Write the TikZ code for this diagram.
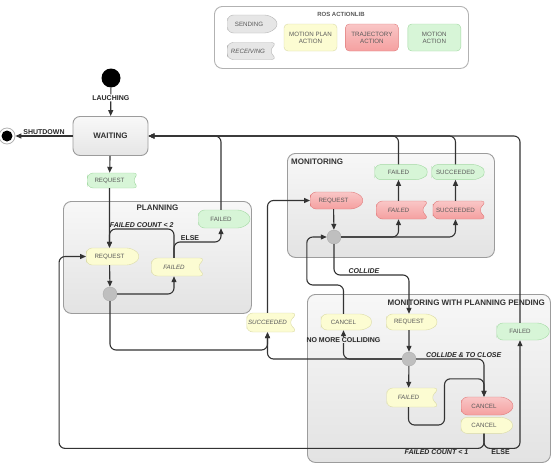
\documentclass[tikz,border=0pt]{standalone}
\usepackage{fontspec}
\setmainfont{Liberation Sans}
\usetikzlibrary{shapes.symbols, arrows.meta, positioning, calc}
\definecolor{planfill}{HTML}{FCFCD2}
\definecolor{plandraw}{HTML}{DADAA6}
\definecolor{trajfill}{HTML}{F5A0A0}
\definecolor{trajdraw}{HTML}{E07B7B}
\definecolor{motfill}{HTML}{D7F5D7}
\definecolor{motdraw}{HTML}{A3D9A3}
\definecolor{rosfill}{HTML}{E6E6E6}
\definecolor{rosdraw}{HTML}{B4B4B4}
\definecolor{boxdraw}{HTML}{9C9C9C}
\definecolor{txtgray}{HTML}{5A5A5A}
\definecolor{wire}{HTML}{333333}

\begin{document}
\begin{tikzpicture}[
  x=1pt, y=-1pt,
  msg/.style={signal, minimum height=17pt, minimum width=54pt, inner sep=1pt, rounded corners=6pt, font=\fontsize{6.2}{7}\selectfont, text=txtgray},
  send/.style={msg, signal to=east, signal from=nowhere},
  recv/.style={msg, signal to=nowhere, signal from=east},
  plan/.style={fill=planfill, draw=plandraw},
  traj/.style={top color=trajfill!60!white, bottom color=trajfill, draw=trajdraw},
  motion/.style={fill=motfill, draw=motdraw},
  ros/.style={fill=rosfill, draw=rosdraw},
  action/.style={rectangle, rounded corners=4pt, minimum width=53pt, minimum height=27pt, align=center, font=\fontsize{6.2}{7}\selectfont, text=txtgray},
  group/.style={rectangle, rounded corners=8pt, draw=boxdraw, line width=0.9pt, top color=gray!6, bottom color=gray!22, inner sep=0pt, anchor=north west},
  title/.style={font=\bfseries\fontsize{8}{9}\selectfont, text=black!80, inner sep=1pt},
  state/.style={rectangle, rounded corners=7pt, draw=boxdraw, line width=0.9pt, top color=gray!5, bottom color=gray!20, minimum width=75pt, minimum height=39pt, font=\bfseries\fontsize{8}{9}\selectfont, text=black!80},
  junction/.style={circle, fill=gray!50, draw=gray!65, minimum size=14pt, inner sep=0pt},
  start/.style={circle, fill=black, minimum size=19pt, inner sep=0pt},
  stop/.style={circle, draw=gray!60, fill=white, line width=0.8pt, minimum size=16pt, inner sep=0pt, path picture={\fill[black] (path picture bounding box.center) circle (5.5pt);}},
  evt/.style={font=\bfseries\fontsize{7}{8}\selectfont, text=black!85, inner sep=1pt},
  cond/.style={font=\bfseries\itshape\fontsize{7}{8}\selectfont, text=black!85, inner sep=1pt},
  line/.style={draw=wire, line width=1.1pt, rounded corners=6pt, -{Triangle[length=6pt, width=5pt]}}
]
  \useasboundingbox (0,0) rectangle (555,463);

  \node[group, fill=white, top color=white, bottom color=white, draw=gray!60, minimum width=254pt, minimum height=62pt] (legend) at (214,6) {};
  \node[font=\bfseries\fontsize{6}{7}\selectfont, text=txtgray] (legendtitle) at (341,14) {ROS ACTIONLIB};
  \node[send, ros, minimum width=52pt, minimum height=18pt] (sending) at (249,24) {SENDING};
  \node[recv, ros, minimum width=50pt, font=\itshape\fontsize{6.2}{7}\selectfont] (receiving) at (248,51) {RECEIVING};
  \node[action, plan] (planaction) at (310.5,37.5) {MOTION PLAN\\ACTION};
  \node[action, traj, right=8pt of planaction] (trajaction) {TRAJECTORY\\ACTION};
  \node[action, motion, right=9pt of trajaction] (motionaction) {MOTION\\ACTION};

  \node[group, minimum width=188pt, minimum height=112pt] (planning) at (63,201) {};
  \node[title, below=3pt of planning.north] (planningtitle) {PLANNING};
  \node[group, minimum width=207pt, minimum height=104pt] (monitoring) at (287,153) {};
  \node[title, anchor=west] (monitoringtitle) at (290,162) {MONITORING};
  \node[group, minimum width=243pt, minimum height=168pt] (pending) at (307,294) {};
  \node[title, anchor=east] (pendingtitle) at (546,303) {MONITORING WITH PLANNING PENDING};

  \node[start] (init) at (111,78) {};
  \node[stop] (final) at (7,136) {};
  \node[state] (waiting) at (110.5,136) {WAITING};
  \node[recv, motion, minimum width=52pt, minimum height=15pt] (request) at (109.5,180.5) {REQUEST};

  \node[send, plan, minimum width=55pt] (planreq) at (109.5,256.5) {REQUEST};
  \node[recv, plan, minimum height=18pt, font=\itshape\fontsize{6.2}{7}\selectfont] (planfail) at (174,267) {FAILED};
  \node[send, motion, minimum height=18pt] (planfailed) at (221,219) {FAILED};
  \node[junction] (planjoin) at (110,294) {};
  \node[recv, plan, minimum width=51pt, minimum height=19pt, font=\itshape\fontsize{6.2}{7}\selectfont] (plansucc) at (267.5,322.5) {SUCCEEDED};

  \node[send, traj, minimum width=55pt] (monreq) at (333.5,200.5) {REQUEST};
  \node[recv, traj, minimum width=53pt, minimum height=18pt, font=\itshape\fontsize{6.2}{7}\selectfont] (monfail) at (398.5,210) {FAILED};
  \node[recv, traj, minimum height=18pt, right=12pt of monfail] (monsucc) {SUCCEEDED};
  \node[send, motion, minimum width=55pt, minimum height=15pt, above=21pt of monfail] (monfailed) {FAILED};
  \node[send, motion, minimum width=55pt, minimum height=15pt, above=21pt of monsucc] (monsucceeded) {SUCCEEDED};
  \node[junction] (monjoin) at (334,237) {};

  \node[send, plan, minimum width=53pt, minimum height=16pt] (pendcancel) at (343.5,322) {CANCEL};
  \node[send, plan, minimum width=53pt, minimum height=16pt, right=12pt of pendcancel] (pendreq) {REQUEST};
  \node[send, motion, minimum width=55pt] (pendfailed) at (520,331.5) {FAILED};
  \node[junction] (pendjoin) at (409,359) {};
  \node[recv, plan, minimum width=53pt, minimum height=19pt, font=\itshape\fontsize{6.2}{7}\selectfont] (pendfail) at (408.5,397.5) {FAILED};
  \node[send, traj, minimum height=18pt] (pendcanceltraj) at (484,406) {CANCEL};
  \node[send, plan, minimum height=16pt, below=2pt of pendcanceltraj] (pendcancelplan) {CANCEL};

  \draw[line] (init) -- node[evt, fill=white, pos=0.36] {LAUCHING} (waiting);
  \draw[line] (waiting) -- node[evt, above] {SHUTDOWN} (final);
  \draw[line] (waiting) -- (request);
  \draw[line] (request) -- (planreq);
  \draw[line] (planfail) -- ++(0,-38) -| node[cond, above, pos=0.25] {FAILED COUNT < 2} (planreq);
  \draw[line] (planfail) -- ++(0,-25) -| node[evt, above, pos=0.17] {ELSE} (planfailed);
  \draw[line] (planreq) -- (planjoin);
  \draw[line] (planjoin) -| (planfail);
  \draw[line] (planjoin) -- ++(0,56) -| (plansucc);
  \draw[line] (planfailed) |- (waiting);

  \draw[line] (plansucc) |- (monreq);
  \draw[line] (monreq) -- (monjoin);
  \draw[line] (monjoin) -| (monfail);
  \draw[line] (monjoin) -| (monsucc);
  \draw[line] (monfail) -- (monfailed);
  \draw[line] (monsucc) -- (monsucceeded);
  \draw[line] (monfailed) |- (waiting);
  \draw[line] (monsucceeded) |- (waiting);
  \draw[line] (monjoin) -- ++(0,38) -| node[cond, above, pos=0.2] {COLLIDE} (pendreq);

  \draw[line] (pendcancel) -- ++(0,-37) -| ([xshift=-20pt]monjoin.west) -- (monjoin);
  \draw[line] (pendreq) -- (pendjoin);
  \draw[line] (pendjoin) -- (pendfail);
  \draw[line] (pendjoin) -| node[cond, above, pos=0.35] {COLLIDE \& TO CLOSE} (pendcanceltraj);
  \draw[line] (pendfail) -- ++(0,27.5) -- ++(36,0) |- ([yshift=18pt]pendcanceltraj.north) -- (pendcanceltraj);
  \draw[line] (pendjoin) -| (plansucc);
  \draw[line] (pendjoin) -| node[evt, pos=0.83, fill=gray!14, inner sep=0.5pt] {NO MORE COLLIDING} (pendcancel);
  \draw[line] (pendcancelplan) -- ++(0,23) -| node[cond, below, pos=0.056] {FAILED COUNT < 1} ([xshift=-27pt]planreq.west) -- (planreq);
  \draw[line] (pendcancelplan) -- ++(0,23) -| node[evt, below, pos=0.23] {ELSE} (pendfailed);
  \draw[line] (pendfailed) |- (waiting);
\end{tikzpicture}
\end{document}
